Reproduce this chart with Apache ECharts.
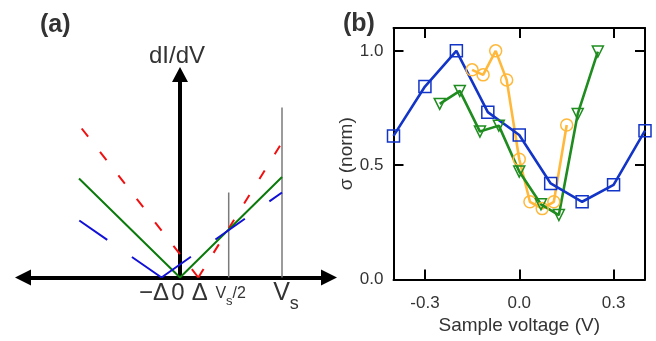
<!DOCTYPE html>
<html><head><meta charset="utf-8">
<script src="https://cdn.jsdelivr.net/npm/echarts@6/dist/echarts.min.js"></script>
<style>html,body{margin:0;padding:0;background:#fff}#c{width:656px;height:341px}</style>
</head><body><div id="c"></div>
<script>
// ---------- Panel (a): schematic (x in px-like units, 0 = zero bias) ----------
const schemTickX = [-18.5, 0, 18.3, 48.7, 102];
const schemTickText = ['{m1|−Δ}', '{m0|0}', '{m2|Δ}', '{v1|V}{vs|s}{v2|/2}', '{V|V}{Vs|s}'];
const greenSchem = [[-101, 99], [0, 0], [102, 100.5]];
const redSchemLeft = [[18.3, 0], [-98.3, 149]];
const redSchemRight = [[18.3, 0], [102, 135]];
const blueSchemLeft = [[-18.5, 0], [-100.7, 57]];
const blueSchemRight = [[-18.5, 0], [102, 85]];
const grayHalf = [[48.7, 0], [48.7, 85]];
const grayFull = [[102, 0], [102, 170]];

// ---------- Panel (b): measured data ----------
const xTicksB = [-0.3, 0.0, 0.3];
const yTicksB = [0.0, 0.5, 1.0];
const blueX = [-0.4, -0.3, -0.2, -0.1, 0.0, 0.1, 0.2, 0.3, 0.4];
const blueY = [0.628, 0.844, 1.0, 0.732, 0.632, 0.42, 0.34, 0.414, 0.651];
const orangeX = [-0.150, -0.115, -0.075, -0.040, 0.0, 0.034, 0.073, 0.110, 0.151];
const orangeY = [0.917, 0.895, 1.0, 0.873, 0.526, 0.34, 0.31, 0.34, 0.676];
const greenX = [-0.253, -0.189, -0.125, -0.065, 0.0, 0.069, 0.126, 0.186, 0.250];
const greenY = [0.768, 0.825, 0.647, 0.673, 0.472, 0.329, 0.282, 0.724, 0.997];

const FONT = 'Liberation Sans, Arial, Helvetica, sans-serif';
const pair = (xs, ys) => xs.map((x, i) => [x, ys[i]]);
const SCHEM_XMIN = -157, SCHEM_XMAX = 149;

function schemLine(data, color, width, type) {
  return { type: 'line', xAxisIndex: 0, yAxisIndex: 0, data: data, symbol: 'none', silent: true,
    lineStyle: { color: color, width: width, type: type, cap: 'butt' }, z: 2 };
}
function measLine(xs, ys, color, symbol, size, rotate) {
  return { type: 'line', xAxisIndex: 1, yAxisIndex: 1, data: pair(xs, ys), symbol: symbol,
    symbolSize: size, symbolRotate: rotate || 0, showAllSymbol: true, silent: true,
    lineStyle: { color: color, width: 2.6 },
    itemStyle: { color: 'rgba(255,255,255,0)', borderColor: color, borderWidth: 1.5 }, z: 3 };
}

const chart = echarts.init(document.getElementById('c'), null, { renderer: 'canvas' });
const bTick = { show: true, inside: true, length: 10, lineStyle: { color: '#000', width: 2 } };
const bLine = { show: true, onZero: false, lineStyle: { color: '#000', width: 2 } };

chart.setOption({
  animation: false,
  backgroundColor: '#fff',
  title: [
    { text: '(a)', left: 35, top: 8, textStyle: { fontFamily: FONT, fontSize: 25, fontWeight: 'bold', color: '#333' } },
    { text: '(b)', left: 338, top: 7, textStyle: { fontFamily: FONT, fontSize: 25, fontWeight: 'bold', color: '#333' } }
  ],
  grid: [
    { left: 23, top: 74.5, width: 306, height: 203 },
    { left: 393.5, top: 28, width: 251.5, height: 251.5 }
  ],
  xAxis: [
    { gridIndex: 0, type: 'value', min: SCHEM_XMIN, max: SCHEM_XMAX,
      axisLine: { show: true, symbol: ['triangle', 'triangle'], symbolSize: [16, 16], lineStyle: { color: '#000', width: 4 } },
      axisTick: { show: false }, splitLine: { show: false },
      axisLabel: { show: true, customValues: [SCHEM_XMIN].concat(schemTickX), margin: -4, hideOverlap: false,
        color: '#333', fontFamily: FONT,
        formatter: function (v) {
          if (v === SCHEM_XMIN) return '';
          let best = 0;
          schemTickX.forEach((t, i) => { if (Math.abs(t - v) < Math.abs(schemTickX[best] - v)) best = i; });
          return schemTickText[best];
        },
        rich: {
          m1: { fontSize: 24, lineHeight: 40, fontFamily: FONT, color: '#333', padding: [0, 15, 0, 0] },
          m0: { fontSize: 24, lineHeight: 40, fontFamily: FONT, color: '#333', padding: [0, 4, 0, 0] },
          m2: { fontSize: 24, lineHeight: 40, fontFamily: FONT, color: '#333', padding: [0, 0, 0, 3] },
          v1: { fontSize: 16, lineHeight: 40, fontFamily: FONT, color: '#333', padding: [0, 0, 0, 4] },
          v2: { fontSize: 16, lineHeight: 40, fontFamily: FONT, color: '#333' },
          vs: { fontSize: 13, lineHeight: 13, fontFamily: FONT, color: '#333', padding: [15, 0, 0, 0] },
          V: { fontSize: 25, lineHeight: 40, fontFamily: FONT, color: '#333', padding: [0, 0, 0, 8] },
          Vs: { fontSize: 18, lineHeight: 18, fontFamily: FONT, color: '#333', padding: [22, 0, 0, 0] }
        } } },
    { gridIndex: 1, type: 'value', min: -0.4, max: 0.4, position: 'bottom',
      axisLine: bLine, splitLine: { show: false },
      axisTick: Object.assign({ customValues: xTicksB }, bTick),
      axisLabel: { customValues: xTicksB, margin: 15, fontSize: 17, color: '#333', fontFamily: FONT,
        formatter: v => v.toFixed(1) },
      name: 'Sample voltage (V)', nameLocation: 'middle', nameGap: 34,
      nameTextStyle: { fontSize: 19, color: '#333', fontFamily: FONT } },
    { gridIndex: 1, type: 'value', min: -0.4, max: 0.4, position: 'top',
      axisLine: bLine, splitLine: { show: false },
      axisTick: Object.assign({ customValues: xTicksB }, bTick), axisLabel: { show: false } }
  ],
  yAxis: [
    { gridIndex: 0, type: 'value', min: 0, max: 203,
      axisLine: { show: true, onZero: true, symbol: ['none', 'triangle'], symbolSize: [16, 15], lineStyle: { color: '#000', width: 4 } },
      axisTick: { show: false }, axisLabel: { show: false }, splitLine: { show: false },
      name: 'dI/dV', nameLocation: 'end', nameGap: 6,
      nameTextStyle: { fontSize: 24, color: '#333', fontFamily: FONT, padding: [0, 6, 0, 0] } },
    { gridIndex: 1, type: 'value', min: 0, max: 1.1, position: 'left',
      axisLine: bLine, splitLine: { show: false },
      axisTick: Object.assign({ customValues: yTicksB }, bTick),
      axisLabel: { customValues: yTicksB, margin: 10, fontSize: 17, color: '#333', fontFamily: FONT,
        formatter: v => v.toFixed(1) },
      name: 'σ (norm)', nameLocation: 'middle', nameGap: 35,
      nameTextStyle: { fontSize: 19, color: '#333', fontFamily: FONT } },
    { gridIndex: 1, type: 'value', min: 0, max: 1.1, position: 'right',
      axisLine: bLine, splitLine: { show: false },
      axisTick: Object.assign({ customValues: yTicksB }, bTick), axisLabel: { show: false } }
  ],
  series: [
    schemLine(grayHalf, '#7a7a7a', 1.5, 'solid'),
    schemLine(grayFull, '#7a7a7a', 1.5, 'solid'),
    schemLine(redSchemLeft, '#f01010', 2, [10.5, 19.3]),
    schemLine(redSchemRight, '#f01010', 2, [10, 19]),
    schemLine(greenSchem, '#0a7a0a', 2, 'solid'),
    schemLine(blueSchemLeft, '#1010d8', 2, [36, 30]),
    schemLine(blueSchemRight, '#1010d8', 2, [36, 30]),
    measLine(orangeX, orangeY, '#ffb83a', 'circle', 12),
    measLine(greenX, greenY, '#1e8c1e', 'triangle', 11, 180),
    measLine(blueX, blueY, '#1235c8', 'rect', 12)
  ]
});
</script>
</body></html>
